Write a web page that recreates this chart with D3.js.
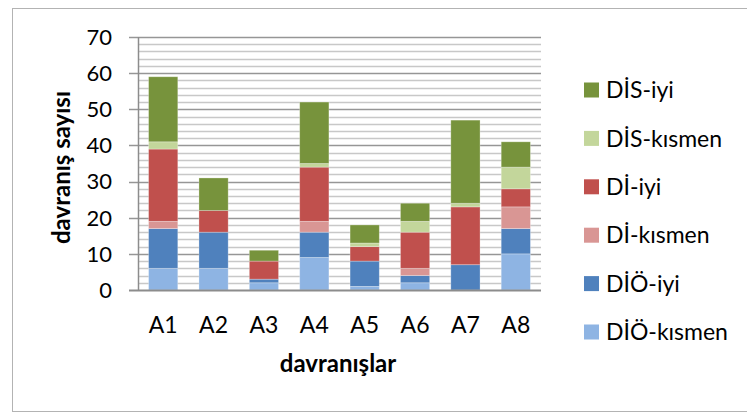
<!DOCTYPE html>
<html>
<head>
<meta charset="utf-8">
<script src="https://cdn.jsdelivr.net/npm/d3@7/dist/d3.min.js"></script>
<style>
  html, body { margin: 0; padding: 0; background: #fff; }
  svg { display: block; }
  text { font-family: Lato, "Open Sans", sans-serif; fill: #000; }
</style>
</head>
<body>
<svg id="chart" width="747" height="413"></svg>
<script>
// Behaviour categories on the x axis
const categories = ["A1", "A2", "A3", "A4", "A5", "A6", "A7", "A8"];

// Stacked series, bottom to top
const seriesNames = ["DİÖ-kısmen", "DİÖ-iyi", "Dİ-kısmen", "Dİ-iyi", "DİS-kısmen", "DİS-iyi"];
const dioKismen = [6, 6, 2, 9, 1, 2, 0, 10];
const dioIyi    = [11, 10, 1, 7, 7, 2, 7, 7];
const diKismen  = [2, 0, 0, 3, 0, 2, 0, 6];
const diIyi     = [20, 6, 5, 15, 4, 10, 16, 5];
const disKismen = [2, 0, 0, 1, 1, 3, 1, 6];
const disIyi    = [18, 9, 3, 17, 5, 5, 23, 7];
const seriesValues = [dioKismen, dioIyi, diKismen, diIyi, disKismen, disIyi];
const seriesColors = ["#8EB4E3", "#4F81BD", "#D99694", "#C0504D", "#C3D69B", "#77933C"];

const yTicks = [0, 10, 20, 30, 40, 50, 60, 70];
const yMinorTicks = d3.range(0, 71, 2);

const svg = d3.select("#chart");

// Outer chart frame
svg.append("rect")
  .attr("x", 12.5).attr("y", 8.5)
  .attr("width", 760).attr("height", 403)
  .attr("fill", "#fff").attr("stroke", "#b3b3b3").attr("stroke-width", 1);

const plot = { left: 138, right: 541, top: 37, bottom: 290 };

const x = d3.scaleBand().domain(categories)
  .range([plot.left, plot.right]).paddingInner(0.42).paddingOuter(0.21);
const y = d3.scaleLinear().domain([0, 70]).range([plot.bottom, plot.top]);

// Minor gridlines every 2 units
svg.append("g").selectAll("line")
  .data(yMinorTicks.filter(v => v % 10 !== 0))
  .join("line")
  .attr("x1", plot.left).attr("x2", plot.right)
  .attr("y1", d => Math.round(y(d)) + 0.5).attr("y2", d => Math.round(y(d)) + 0.5)
  .attr("stroke", "#c8c8c8").attr("stroke-width", 1.5);

// Major gridlines with outside tick marks
svg.append("g").selectAll("line")
  .data(yTicks.filter(v => v > 0))
  .join("line")
  .attr("x1", plot.left - 9).attr("x2", plot.right)
  .attr("y1", d => Math.round(y(d)) + 0.5).attr("y2", d => Math.round(y(d)) + 0.5)
  .attr("stroke", "#969696").attr("stroke-width", 1.5);

// Stacked bars
const rows = categories.map((c, i) => {
  const r = { cat: c };
  seriesNames.forEach((s, k) => { r[s] = seriesValues[k][i]; });
  return r;
});
const stacked = d3.stack().keys(seriesNames)(rows);

svg.append("g").selectAll("g")
  .data(stacked)
  .join("g")
  .attr("fill", (d, k) => seriesColors[k])
  .selectAll("rect")
  .data(d => d.filter(p => p[1] > p[0]))
  .join("rect")
  .attr("x", d => x(d.data.cat))
  .attr("width", x.bandwidth())
  .attr("y", d => y(d[1]))
  .attr("height", d => y(d[0]) - y(d[1]))
  .attr("stroke", "rgba(255,255,255,0.35)")
  .attr("stroke-width", 0.8);

// Axis lines
svg.append("line")
  .attr("x1", plot.left + 0.5).attr("x2", plot.left + 0.5)
  .attr("y1", plot.top).attr("y2", plot.bottom)
  .attr("stroke", "#8c8c8c").attr("stroke-width", 1.5);
svg.append("line")
  .attr("x1", plot.left - 9).attr("x2", plot.right)
  .attr("y1", plot.bottom + 0.5).attr("y2", plot.bottom + 0.5)
  .attr("stroke", "#8c8c8c").attr("stroke-width", 2);

// Y tick labels
svg.append("g").selectAll("text")
  .data(yTicks)
  .join("text")
  .attr("x", 112)
  .attr("y", d => y(d))
  .attr("dy", "0.36em")
  .attr("text-anchor", "end")
  .attr("font-size", 22)
  .text(d => d);

// X tick labels
svg.append("g").selectAll("text")
  .data(categories)
  .join("text")
  .attr("x", d => x(d) + x.bandwidth() / 2)
  .attr("y", 333)
  .attr("text-anchor", "middle")
  .attr("font-size", 23)
  .text(d => d);

// Axis titles
svg.append("text")
  .attr("x", 338).attr("y", 372)
  .attr("text-anchor", "middle")
  .attr("font-size", 24).attr("font-weight", "bold")
  .text("davranışlar");

svg.append("text")
  .attr("transform", `translate(70, ${(plot.top + plot.bottom) / 2 + 4}) rotate(-90)`)
  .attr("text-anchor", "middle")
  .attr("font-size", 24).attr("font-weight", "bold")
  .text("davranış sayısı");

// Legend, top entry is the top of the stack
const legendItems = seriesNames.map((s, k) => ({ name: s, color: seriesColors[k] })).reverse();
const legend = svg.append("g").selectAll("g")
  .data(legendItems)
  .join("g")
  .attr("transform", (d, i) => `translate(584, ${90 + i * 48.4})`);
legend.append("rect")
  .attr("x", 0).attr("y", -7.5)
  .attr("width", 15).attr("height", 15)
  .attr("fill", d => d.color);
legend.append("text")
  .attr("x", 22).attr("y", 0).attr("dy", "0.36em")
  .attr("font-size", 23)
  .text(d => d.name);
</script>
</body>
</html>
